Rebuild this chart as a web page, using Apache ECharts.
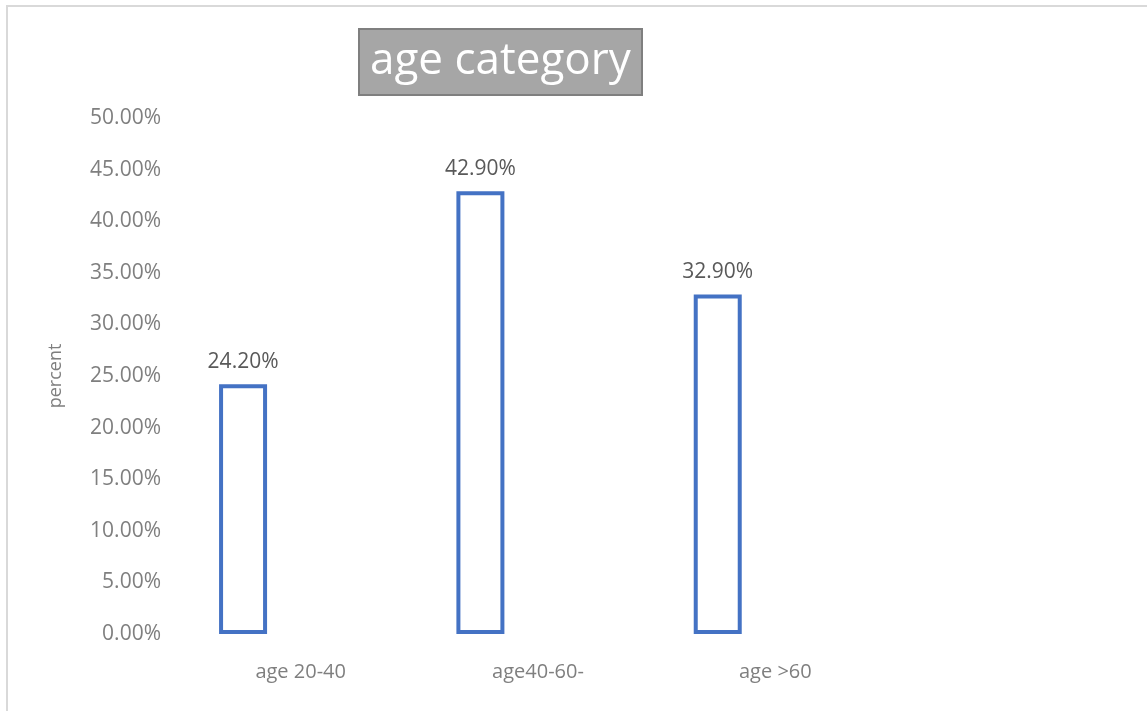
<!DOCTYPE html>
<html>
<head>
<meta charset="utf-8">
<script src="https://cdn.jsdelivr.net/npm/echarts@6/dist/echarts.min.js"></script>
<style>
  html, body { margin: 0; padding: 0; background: #fff; }
  #frame { position: absolute; left: 6px; top: 5px; width: 1145px; height: 720px;
           border: 2px solid #d9d9d9; box-sizing: border-box; }
  #chart { position: absolute; left: 0; top: 0; width: 1147px; height: 711px; }
</style>
</head>
<body>
<div id="frame"></div>
<div id="chart"></div>
<script>
  // chart data
  var categories = ['age 20-40', 'age40-60-', 'age >60']
  var percentValues = [24.2, 42.9, 32.9]
  var emptyValues = [null, null, null] // second (empty) series, keeps bars left of label
  var yMin = 0
  var yMax = 50
  var yStep = 5

  var chart = echarts.init(document.getElementById('chart'))
  var font = '"Open Sans", "Noto Sans", sans-serif'

  chart.setOption({
    animation: false,
    title: {
      text: 'age category',
      left: 359,
      top: 29,
      padding: [3, 11, 5, 11],
      backgroundColor: '#a6a6a6',
      borderColor: '#7f7f7f',
      borderWidth: 2,
      textStyle: {
        color: '#ffffff',
        fontFamily: font,
        fontSize: 44,
        fontWeight: 'normal',
        lineHeight: 58
      }
    },
    grid: {
      left: 182,
      right: 253,
      top: 118,
      bottom: 77,
      containLabel: false
    },
    xAxis: {
      type: 'category',
      data: categories,
      axisLine: { show: false },
      axisTick: { show: false },
      axisLabel: {
        margin: 28,
        color: '#7f7f7f',
        fontFamily: font,
        fontSize: 20
      }
    },
    yAxis: {
      type: 'value',
      min: yMin,
      max: yMax,
      interval: yStep,
      name: 'percent',
      nameLocation: 'middle',
      nameGap: 117,
      nameTextStyle: {
        color: '#7f7f7f',
        fontFamily: font,
        fontSize: 18
      },
      splitLine: { show: false },
      axisLine: { show: false },
      axisTick: { show: false },
      axisLabel: {
        margin: 21,
        color: '#7f7f7f',
        fontFamily: font,
        fontSize: 21,
        formatter: function (v) { return v.toFixed(2) + '%' }
      }
    },
    series: [
      {
        name: 'percent',
        type: 'bar',
        data: percentValues,
        barWidth: 48,
        barGap: '140%',
        itemStyle: {
          color: '#ffffff',
          borderColor: '#4472c4',
          borderWidth: 4
        },
        label: {
          show: true,
          position: 'top',
          distance: 12,
          color: '#595959',
          fontFamily: font,
          fontSize: 21,
          formatter: function (p) { return p.value.toFixed(2) + '%' }
        }
      },
      {
        name: 'empty',
        type: 'bar',
        data: emptyValues,
        barWidth: 48
      }
    ]
  })
</script>
</body>
</html>
